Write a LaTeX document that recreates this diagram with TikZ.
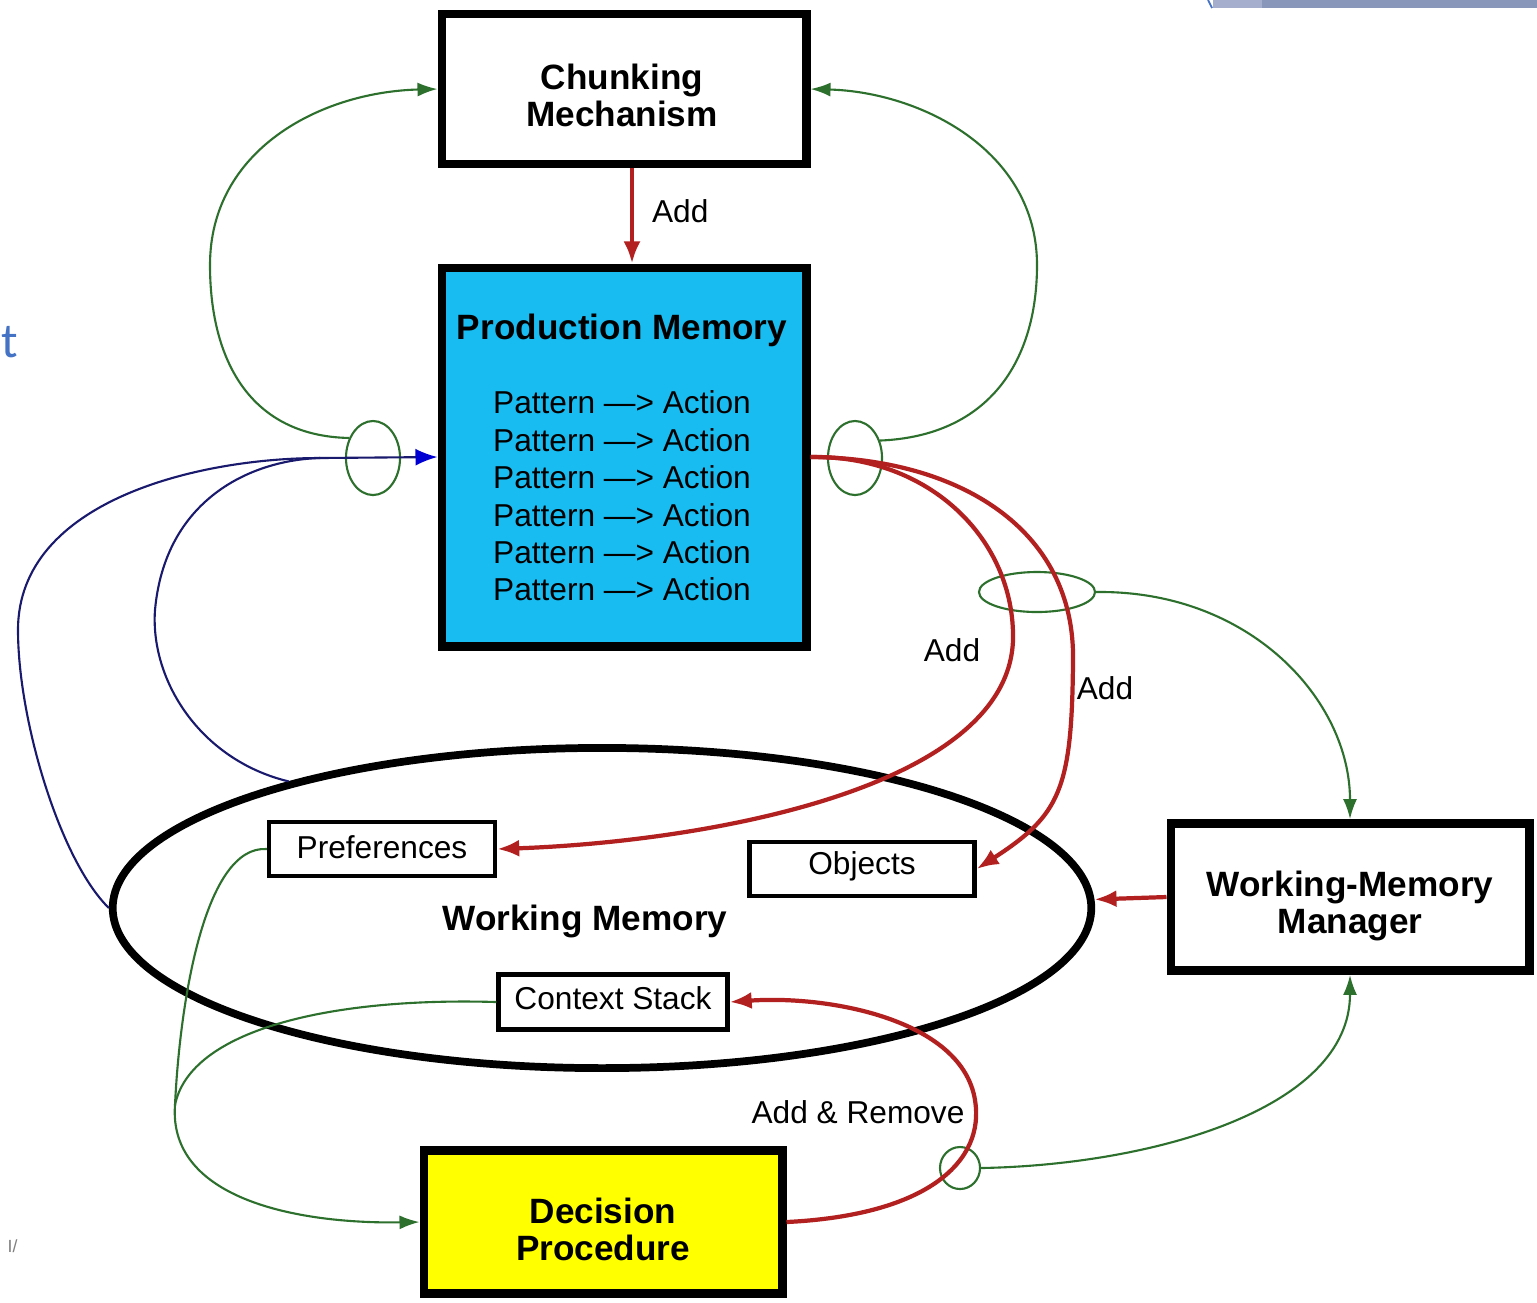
\documentclass[tikz,border=0pt]{standalone}
\usepackage{fontspec}
\setmainfont{Liberation Sans}
\newfontfamily\slidefont{Carlito}
\usetikzlibrary{arrows.meta,shapes.geometric}

\definecolor{pmcyan}{RGB}{25,188,240}
\definecolor{dpyellow}{RGB}{255,255,0}
\definecolor{linkgreen}{RGB}{45,112,45}
\definecolor{linkred}{RGB}{178,32,32}
\definecolor{linknavy}{RGB}{25,25,110}
\definecolor{tipblue}{RGB}{0,0,210}
\definecolor{slideblue}{RGB}{68,114,196}
\definecolor{slidebar}{RGB}{137,152,186}
\definecolor{slidebarlight}{RGB}{165,175,205}

\tikzset{
  bigbox/.style={draw, line width=2.5pt, inner sep=0pt},
  itembox/.style={draw, fill=white, line width=1.2pt, inner sep=0pt,
    font=\fontsize{9}{10.5}\selectfont},
  ring/.style={draw=linkgreen, line width=0.6pt, ellipse, inner sep=0pt},
  greenlink/.style={draw=linkgreen, line width=0.6pt},
  greenarrow/.style={greenlink, -{Latex[length=0.2cm,width=0.14cm]}},
  redarrow/.style={draw=linkred, line width=1.2pt, -{Latex[length=0.22cm,width=0.17cm]}},
  navylink/.style={draw=linknavy, line width=0.6pt},
  navyarrow/.style={navylink, -{Latex[length=0.22cm,width=0.17cm,color=tipblue]}},
  lbl/.style={font=\fontsize{9}{10.5}\selectfont, inner sep=0pt},
  boldlbl/.style={font=\fontsize{10}{10.5}\selectfont\bfseries, inner sep=0pt, align=center},
}

\begin{document}
\begin{tikzpicture}[x=0.01cm, y=-0.01cm]
  \path[use as bounding box, fill=white] (0,0) rectangle (1537,1302);

  % slide remnants at the edges
  \fill[slidebarlight] (1213,0) rectangle (1262,8);
  \fill[slidebar] (1262,0) rectangle (1537,8);
  \draw[slideblue, line width=0.5pt] (1208,0) -- (1212,8);
  \node[anchor=west, inner sep=0pt, text=slideblue, font=\slidefont\fontsize{14}{14}\selectfont] (edget) at (1,342) {t};
  \node[anchor=west, inner sep=0pt, text=gray, font=\fontsize{5}{5}\selectfont] (edgei) at (7,1246) {I/};

  % working memory
  \node[draw, ellipse, line width=2.2pt, inner sep=0pt,
        minimum width=9.78cm, minimum height=3.2cm] (wm) at (602,908) {};
  \node[boldlbl] (wmlabel) at (585,921) {Working Memory};
  \node[itembox, minimum width=2.26cm, minimum height=0.54cm] (pref) at (382,849) {};
  \node[lbl] (preftext) at (382,847) {Preferences};
  \node[itembox, minimum width=2.25cm, minimum height=0.54cm] (obj) at (862,869) {};
  \node[lbl] (objtext) at (862,866) {Objects};
  \node[itembox, minimum width=2.29cm, minimum height=0.55cm] (cs) at (613,1002) {};
  \node[lbl] (cstext) at (613,998) {Context Stack};

  % main components
  \node[bigbox, minimum width=3.64cm, minimum height=1.50cm] (chunk) at (624,89) {};
  \node[boldlbl] (chunktext) at (622,95) {Chunking\\Mechanism};
  \node[bigbox, fill=pmcyan, minimum width=3.64cm, minimum height=3.78cm] (prod) at (624,457) {};
  \node[boldlbl] (prodtitle) at (622,330) {Production Memory};
  \node[lbl, align=center, font=\fontsize{9}{10.64}\selectfont] (rules) at (622,496)
    {Pattern —> Action\\Pattern —> Action\\Pattern —> Action\\Pattern —> Action\\Pattern —> Action\\Pattern —> Action};
  \node[bigbox, fill=white, minimum width=3.58cm, minimum height=1.47cm] (wmm) at (1350,897) {};
  \node[boldlbl] (wmmtext) at (1350,906) {Working-Memory\\Manager};
  \node[bigbox, fill=dpyellow, minimum width=3.58cm, minimum height=1.43cm] (dp) at (603,1222) {};
  \node[boldlbl] (dptext) at (603,1229) {Decision\\Procedure};

  % junction markers on the links
  \node[ring, minimum width=0.54cm, minimum height=0.74cm] (ringL) at (373,458) {};
  \node[ring, minimum width=0.54cm, minimum height=0.74cm] (ringR) at (855,458) {};
  \node[ring, minimum width=1.16cm, minimum height=0.40cm] (ringH) at (1037,592) {};
  \node[ring, minimum width=0.40cm, minimum height=0.42cm] (ringS) at (960,1168) {};
  \coordinate (bj) at (320,458);
  \coordinate (gj) at (175,1105);

  % chunking adds productions
  \draw[redarrow] ([xshift=0.08cm]chunk.south) -- ([xshift=0.08cm]prod.north)
    node[lbl, pos=0.45, right=0.18cm] (addc) {Add};

  % matching feeds chunking
  \draw[greenarrow] (ringL.140) .. controls (250,436) and (210,360) .. (210,265)
    .. controls (210,150) and (320,92) .. (chunk.west);
  \draw[greenarrow] (ringR.35) .. controls (990,436) and (1037,360) .. (1037,265)
    .. controls (1037,150) and (920,92) .. (chunk.east);

  % working memory is matched against production memory
  \draw[navylink] (wm.west) .. controls (60,860) and (18,720) .. (18,630)
    .. controls (18,500) and (200,458) .. (bj);
  \draw[navylink] (wm.158) .. controls (200,760) and (150,680) .. (155,610)
    .. controls (165,500) and (250,460) .. (bj);
  \draw[navyarrow] (bj) -- (prod.west);

  % production actions add to working memory
  \draw[redarrow] (prod.east) .. controls (930,455) and (1015,540) .. (1013,640)
    .. controls (1008,790) and (700,842) .. (pref.east);
  \draw[redarrow] (prod.east) .. controls (960,458) and (1075,530) .. (1073,660)
    .. controls (1072,790) and (1060,815) .. (obj.east);
  \node[lbl] (add1) at (952,650) {Add};
  \node[lbl] (add2) at (1105,688) {Add};

  % manager
  \draw[greenarrow] (ringH.east) .. controls (1250,590) and (1350,700) .. (wmm.north);
  \draw[redarrow] (wmm.west) -- (wm.1);

  % decision procedure
  \draw[redarrow] (dp.east) .. controls (930,1215) and (985,1160) .. (975,1100)
    .. controls (962,1020) and (830,995) .. (cs.east);
  \node[lbl] (addrem) at (858,1112) {Add \& Remove};
  \draw[greenarrow] (ringS.east) .. controls (1150,1165) and (1350,1110) .. (wmm.south);

  % preferences and context stack feed the decision
  \draw[greenlink] (pref.west) .. controls (205,845) and (180,1000) .. (gj);
  \draw[greenlink] (cs.west) .. controls (330,997) and (190,1030) .. (gj);
  \draw[greenarrow] (gj) .. controls (168,1200) and (300,1224) .. (dp.west);
\end{tikzpicture}
\end{document}
